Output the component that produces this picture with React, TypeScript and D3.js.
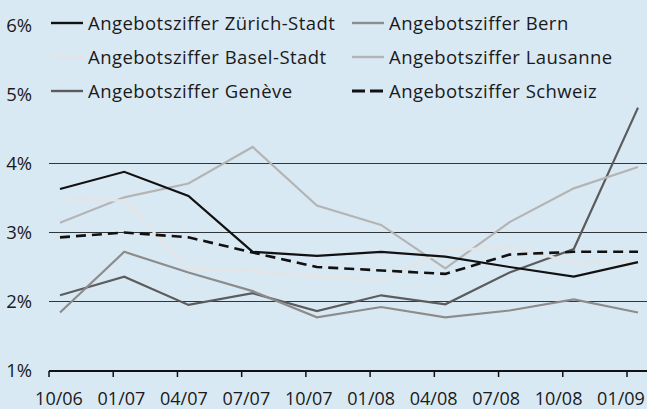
import React from "react";
import * as d3 from "d3";

const periods = ["10/06", "01/07", "04/07", "07/07", "10/07", "01/08", "04/08", "07/08", "10/08", "01/09"];
const yTicks = [1, 2, 3, 4, 5, 6];
const gridValues = [2, 3, 4];

const zuerich = [3.63, 3.88, 3.53, 2.72, 2.66, 2.72, 2.65, 2.5, 2.36, 2.57];
const bern = [1.84, 2.72, 2.42, 2.15, 1.77, 1.92, 1.77, 1.87, 2.03, 1.84];
const basel = [3.5, 3.46, 2.47, 2.44, 2.37, 2.31, 2.74, 2.79, 2.57, 2.56];
const lausanne = [3.14, 3.51, 3.71, 4.24, 3.39, 3.11, 2.48, 3.15, 3.64, 3.95];
const geneve = [2.09, 2.36, 1.95, 2.12, 1.86, 2.09, 1.96, 2.42, 2.76, 4.81];
const schweiz = [2.93, 3.0, 2.93, 2.71, 2.5, 2.45, 2.4, 2.68, 2.72, 2.72];

const seriesNames = [
  "Angebotsziffer Zürich-Stadt",
  "Angebotsziffer Bern",
  "Angebotsziffer Basel-Stadt",
  "Angebotsziffer Lausanne",
  "Angebotsziffer Genève",
  "Angebotsziffer Schweiz",
];

const W = 647;
const H = 409;
const FONT = "'Open Sans', sans-serif";

export default function App() {
  const series = [
    { name: seriesNames[4], values: geneve, color: "#5c5c5c", width: 2.2, dash: null, col: 0, row: 2 },
    { name: seriesNames[1], values: bern, color: "#8c8c8c", width: 2.2, dash: null, col: 1, row: 0 },
    { name: seriesNames[3], values: lausanne, color: "#b4b4b4", width: 2.2, dash: null, col: 1, row: 1 },
    { name: seriesNames[2], values: basel, color: "#e4e4e4", width: 2.4, dash: null, col: 0, row: 1 },
    { name: seriesNames[0], values: zuerich, color: "#111111", width: 2.2, dash: null, col: 0, row: 0 },
    { name: seriesNames[5], values: schweiz, color: "#111111", width: 2.6, dash: "10,6", col: 1, row: 2 },
  ];

  const y = d3.scaleLinear().domain([1, 6]).range([370.5, 25.5]);
  const xData = d3.scalePoint<string>().domain(periods).range([60, 638]);
  const xTick = d3.scalePoint<string>().domain(periods).range([49, 627]);
  const xLabel = d3.scalePoint<string>().domain(periods).range([59, 621]);

  const line = d3
    .line<number>()
    .x((_, i) => xData(periods[i]) as number)
    .y((v) => y(v));

  const legendCols = [51, 352];
  const legendRows = [23, 57, 91];

  return (
    <svg
      width={W}
      height={H}
      style={{ position: "absolute", left: 0, top: 0, display: "block" }}
      fontFamily={FONT}
    >
      <rect x={0} y={0} width={W} height={H} fill="#d9e9f4" />
      {gridValues.map((g) => (
        <line key={g} x1={49} x2={W} y1={y(g)} y2={y(g)} stroke="#30363b" strokeWidth={1.2} />
      ))}
      {yTicks.map((t) => (
        <text key={t} x={32} y={y(t) + 6.5} textAnchor="end" fontSize={18.5} fill="#1a1a1a">
          {t}%
        </text>
      ))}
      <line x1={49} x2={W} y1={371} y2={371} stroke="#111" strokeWidth={2} />
      {periods.map((p) => (
        <line key={p} x1={xTick(p)} x2={xTick(p)} y1={371} y2={377} stroke="#111" strokeWidth={1.5} />
      ))}
      {periods.map((p) => (
        <text key={p} x={xLabel(p)} y={404.5} textAnchor="middle" fontSize={18} fill="#1a1a1a">
          {p}
        </text>
      ))}
      {series.map((s) => (
        <path
          key={s.name}
          d={line(s.values) || ""}
          fill="none"
          stroke={s.color}
          strokeWidth={s.width}
          strokeDasharray={s.dash || undefined}
          strokeLinejoin="miter"
        />
      ))}
      {series.map((s) => {
        const lx = legendCols[s.col];
        const ly = legendRows[s.row];
        return (
          <g key={"lg" + s.name}>
            <line
              x1={lx}
              x2={lx + 32}
              y1={ly}
              y2={ly}
              stroke={s.color}
              strokeWidth={s.dash ? 3 : 2.4}
              strokeDasharray={s.dash ? "13,5" : undefined}
            />
            <text x={lx + 37} y={ly + 6.8} fontSize={18.5} letterSpacing={0.45} fill="#1a1a1a">
              {s.name}
            </text>
          </g>
        );
      })}
    </svg>
  );
}
